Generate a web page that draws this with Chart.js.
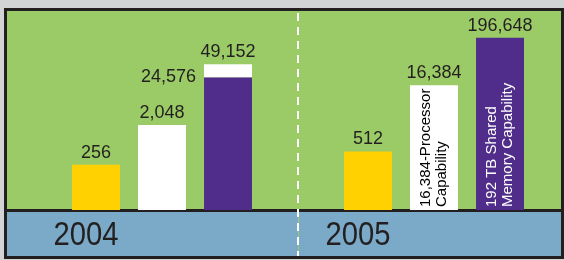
<!DOCTYPE html>
<html>
<head>
<meta charset="utf-8">
<script src="https://cdn.jsdelivr.net/npm/chart.js@4/dist/chart.umd.min.js"></script>
<style>
  html, body { margin: 0; padding: 0; width: 564px; height: 260px; overflow: hidden; background: #d2d3d5; }
  #frame { position: absolute; left: 4px; top: 8px; width: 560px; height: 251px; box-sizing: border-box;
           border: 3px solid #231f20; background: #9bcb66; }
  #strip { position: absolute; left: 0; right: 0; top: 198px; bottom: 0; border-top: 3px solid #231f20; background: #7aaac7; }
  #chart { position: absolute; left: 0; top: 0; }
</style>
</head>
<body>
<div id="frame"><div id="strip"></div></div>
<canvas id="chart" width="600" height="260"></canvas>
<script>
var categories = ["2004", "2005"];
var smpValues = [256, 512];
var processorValues = [2048, 16384];
var memoryValues = [24576, 196648];
var memoryTotals = [49152, null];
var processorNotes = [null, ["16,384-Processor", "Capability"]];
var memoryNotes = [null, ["192 TB Shared", "Memory Capability"]];

var textColor = "#231f20";

function fmt(v) {
  return v.toLocaleString("en-US");
}

// dashed divider between the two years
var dividerPlugin = {
  id: "divider",
  beforeDatasetsDraw: function (chart) {
    var ctx = chart.ctx;
    var xs = chart.scales.x;
    var x = Math.round((xs.getPixelForValue(0) + xs.getPixelForValue(1)) / 2);
    ctx.save();
    ctx.strokeStyle = "#9bcb66";
    ctx.lineWidth = 1;
    ctx.beginPath();
    ctx.moveTo(x + 0.5, chart.chartArea.bottom);
    ctx.lineTo(x + 0.5, 256);
    ctx.stroke();
    ctx.strokeStyle = "#ffffff";
    ctx.lineWidth = 2;
    ctx.setLineDash([8, 6]);
    ctx.beginPath();
    ctx.moveTo(x, 13);
    ctx.lineTo(x, 256);
    ctx.stroke();
    ctx.restore();
  }
};

// year labels in the blue strip, condensed like the original
var yearPlugin = {
  id: "years",
  afterDraw: function (chart) {
    var ctx = chart.ctx;
    var xs = chart.scales.x;
    ctx.save();
    ctx.font = "34px 'Liberation Sans', Arial, sans-serif";
    ctx.fillStyle = textColor;
    ctx.textAlign = "center";
    ctx.textBaseline = "middle";
    categories.forEach(function (c, i) {
      var x = xs.getPixelForValue(i) - 76;
      ctx.save();
      ctx.translate(x, xs.top + 26);
      ctx.scale(0.86, 1);
      ctx.fillText(c, 0, 0);
      ctx.restore();
    });
    ctx.restore();
  }
};

// value labels above bars, rotated notes inside bars
var labelPlugin = {
  id: "labels",
  afterDatasetsDraw: function (chart) {
    var ctx = chart.ctx;
    ctx.save();
    categories.forEach(function (c, i) {
      var stacks = {};
      chart.data.datasets.forEach(function (ds, d) {
        var v = ds.data[i];
        if (v == null) return;
        (stacks[ds.stack] = stacks[ds.stack] || []).push({ v: v, el: chart.getDatasetMeta(d).data[i] });
      });
      Object.keys(stacks).forEach(function (k) {
        var segs = stacks[k];
        var total = segs.reduce(function (s, g) { return s + g.v; }, 0);
        var top = segs[segs.length - 1].el;
        ctx.font = "18px 'Liberation Sans', Arial, sans-serif";
        ctx.fillStyle = textColor;
        ctx.textAlign = "center";
        ctx.textBaseline = "middle";
        ctx.fillText(fmt(total), top.x, top.y - 12);
        if (segs.length > 1) {
          var low = segs[0].el;
          ctx.textAlign = "right";
          ctx.fillText(fmt(segs[0].v), low.x - low.width / 2 - 8, low.y);
        }
      });
    });

    chart.data.datasets.forEach(function (ds, d) {
      if (!ds.notes) return;
      chart.getDatasetMeta(d).data.forEach(function (el, i) {
        var lines = ds.notes[i];
        if (!lines) return;
        ctx.save();
        ctx.translate(el.x, el.base - 3);
        ctx.rotate(-Math.PI / 2);
        ctx.font = "15px 'Liberation Sans', Arial, sans-serif";
        ctx.fillStyle = ds.noteColor;
        ctx.textAlign = "left";
        ctx.textBaseline = "middle";
        lines.forEach(function (line, k) {
          ctx.fillText(line, 0, (k - (lines.length - 1) / 2) * 16);
        });
        ctx.restore();
      });
    });
    ctx.restore();
  }
};

function initializeChart() {
  var canvas = document.getElementById("chart");
  new Chart(canvas, {
    type: "bar",
    data: {
      labels: categories,
      datasets: [
        { label: "SMP", data: smpValues, stack: "a", backgroundColor: "#ffd100" },
        { label: "Processors", data: processorValues, stack: "b", backgroundColor: "#ffffff",
          notes: processorNotes, noteColor: "#000000" },
        { label: "Memory", data: memoryValues, stack: "c", backgroundColor: "#512d8b",
          notes: memoryNotes, noteColor: "#ffffff" },
        { label: "Memory total", stack: "c", backgroundColor: "#ffffff",
          data: memoryTotals.map(function (t, i) { return t == null ? null : t - memoryValues[i]; }) }
      ]
    },
    options: {
      responsive: false,
      animation: false,
      categoryPercentage: 0.728,
      barPercentage: 0.727,
      borderWidth: 0,
      layout: { padding: { left: 26, right: 30, top: 10, bottom: 0 } },
      plugins: { legend: { display: false }, tooltip: { enabled: false } },
      scales: {
        x: {
          stacked: true,
          grid: { display: false, drawTicks: false },
          border: { display: false },
          ticks: { display: false },
          afterFit: function (scale) { scale.height = 50; }
        },
        y: {
          type: "logarithmic",
          stacked: true,
          display: false,
          min: 24,
          max: 840000
        }
      }
    },
    plugins: [dividerPlugin, labelPlugin, yearPlugin]
  });
}

window.onload = function () {
  initializeChart();
};
</script>
</body>
</html>
